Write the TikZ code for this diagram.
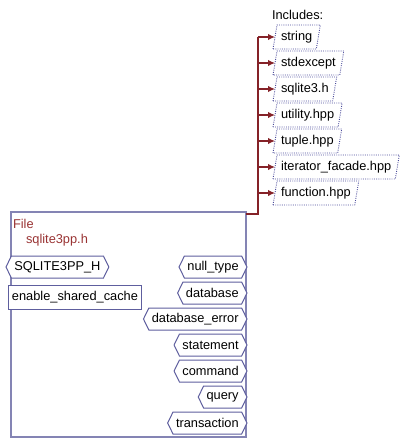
\documentclass[tikz,border=0pt]{standalone}
\usepackage{fontspec}
\setmainfont{Liberation Sans}
\usetikzlibrary{shapes.symbols,arrows.meta,calc}
\definecolor{boxc}{HTML}{8484B4}
\definecolor{hexc}{HTML}{5E5E9E}
\definecolor{connc}{HTML}{852228}
\definecolor{filec}{HTML}{993333}
\definecolor{dotc}{HTML}{4A4A9A}
\begin{document}
\begin{tikzpicture}[x=1pt,y=-1pt,
  font=\fontsize{12.8}{15}\selectfont,
  every node/.style={inner sep=0pt, outer sep=0pt},
  hexnode/.style={signal, signal to=west and east, signal pointer angle=128,
    draw=hexc, line width=1pt, fill=white, minimum height=22pt,
    inner xsep=3pt, inner ysep=0pt},
  rectnode/.style={draw=hexc, line width=1pt, fill=white, minimum height=24pt, inner xsep=4pt},
  filebox/.style={draw=boxc, line width=1.2pt, minimum width=235pt, minimum height=225pt},
  inclnode/.style={minimum height=24pt, inner xsep=6pt, anchor=west},
  incl/.style={draw=dotc, line width=0.9pt, dash pattern=on 0.9pt off 1.3pt},
  connl/.style={draw=connc, line width=1.7pt},
  connarrow/.style={connl, -{Latex[length=7pt,width=6.5pt]}},
  filetext/.style={text=filec, anchor=west}]
\useasboundingbox (0,0) rectangle (406,444);

% file box
\node[filebox, anchor=north west] (file) at (11,212) {};
\node[filetext] (filelbl) at (13,224) {File};
\node[filetext] (fname) at (26,240) {sqlite3pp.h};

% left items
\node[hexnode, anchor=west] (sq) at (6,267) {SQLITE3PP\_H};
\node[rectnode, anchor=west] (esc) at (8,297) {enable\_shared\_cache};

% right items
\node[hexnode, anchor=east] (r1) at (247,267) {null\_type};
\node[hexnode, anchor=east] (r2) at (247,293) {database};
\node[hexnode, anchor=east] (r3) at (247,319) {database\_error};
\node[hexnode, anchor=east] (r4) at (247,345) {statement};
\node[hexnode, anchor=east] (r5) at (247,371) {command};
\node[hexnode, anchor=east] (r6) at (247,397) {query};
\node[hexnode, anchor=east] (r7) at (247,423) {transaction};

% includes
\node[anchor=west] (inclabel) at (272,15) {Includes:};
\node[inclnode] (i1) at (275,37) {string};
\node[inclnode] (i2) at (275,63) {stdexcept};
\node[inclnode] (i3) at (275,89) {sqlite3.h};
\node[inclnode] (i4) at (275,115) {utility.hpp};
\node[inclnode] (i5) at (275,141) {tuple.hpp};
\node[inclnode] (i6) at (275,167) {iterator\_facade.hpp};
\node[inclnode] (i7) at (275,193) {function.hpp};
\foreach \n in {i1,i2,i3,i4,i5,i6,i7}{
  \draw[incl] ([xshift=-2pt]\n.south west) -- ([xshift=2pt]\n.north west)
    -- ([xshift=2pt]\n.north east) -- ([xshift=-2pt]\n.south east) -- cycle;
}

% connectors
\coordinate (j) at (258,214);
\draw[connl] ([yshift=-2pt]file.north east) -- (j) -- (j |- i1.west);
\foreach \n in {i1,i2,i3,i4,i5,i6,i7}{
  \draw[connarrow] (j |- \n.west) -- (\n.west);
}
\end{tikzpicture}
\end{document}
